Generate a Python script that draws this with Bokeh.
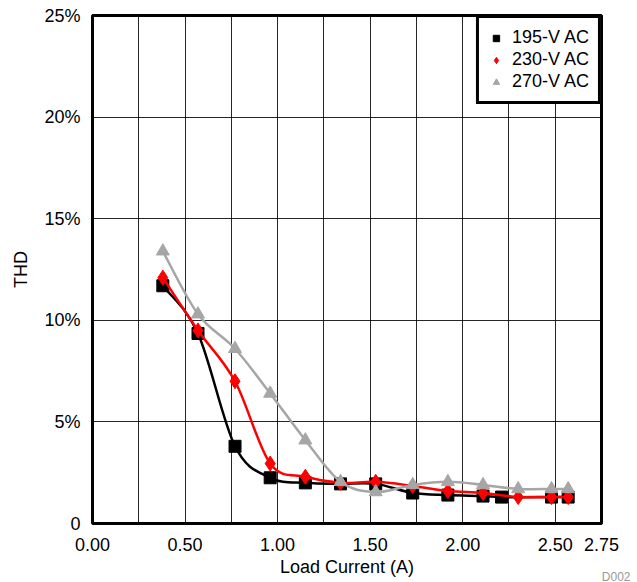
from bokeh.plotting import figure
from bokeh.models import FixedTicker, Range1d, Legend, LegendItem, Title, ColumnDataSource
from bokeh.embed import file_html
from bokeh.resources import INLINE

# ---- data ----
series_names = ["195-V AC", "230-V AC", "270-V AC"]
x_195 = [0.38, 0.57, 0.77, 0.96, 1.15, 1.34, 1.53, 1.73, 1.92, 2.11, 2.21, 2.48, 2.57]
thd_195 = [11.7, 9.35, 3.8, 2.25, 2.0, 1.95, 1.95, 1.5, 1.4, 1.35, 1.3, 1.3, 1.3]
x_230 = [0.38, 0.57, 0.77, 0.96, 1.15, 1.34, 1.53, 1.73, 1.92, 2.11, 2.30, 2.48, 2.57]
thd_230 = [12.1, 9.5, 7.0, 2.95, 2.3, 2.0, 2.05, 1.85, 1.6, 1.5, 1.3, 1.3, 1.3]
x_270 = [0.38, 0.57, 0.77, 0.96, 1.15, 1.34, 1.53, 1.73, 1.92, 2.11, 2.30, 2.48, 2.57]
thd_270 = [13.4, 10.3, 8.6, 6.4, 4.1, 2.05, 1.55, 1.9, 2.05, 1.9, 1.7, 1.7, 1.7]

x_ticks = [0, 0.5, 1.0, 1.5, 2.0, 2.5, 2.75]
x_tick_labels = ["0.00", "0.50", "1.00", "1.50", "2.00", "2.50", "2.75"]
x_grid = [0, 0.25, 0.5, 0.75, 1.0, 1.25, 1.5, 1.75, 2.0, 2.25, 2.5, 2.75]
y_ticks = [0, 5, 10, 15, 20, 25]
y_tick_labels = ["0", "5%", "10%", "15%", "20%", "25%"]
chart_id = "D002"

FONT = "Liberation Sans"
FS = "18px"

p = figure(width=637, height=582, output_backend="svg", toolbar_location=None,
           x_range=Range1d(0, 2.75), y_range=Range1d(0, 25),
           min_border_left=92, min_border_right=36, min_border_top=15, min_border_bottom=59)

p.background_fill_color = "white"
p.border_fill_color = "white"
p.outline_line_color = "black"
p.outline_line_width = 3
p.outline_line_alpha = 1

p.xaxis.ticker = FixedTicker(ticks=x_ticks)
p.xaxis.major_label_overrides = {t: l for t, l in zip(x_ticks, x_tick_labels)}
p.yaxis.ticker = FixedTicker(ticks=y_ticks)
p.yaxis.major_label_overrides = {t: l for t, l in zip(y_ticks, y_tick_labels)}
p.xgrid.ticker = FixedTicker(ticks=x_grid)
p.ygrid.ticker = FixedTicker(ticks=y_ticks)
for g in (p.xgrid, p.ygrid):
    g.grid_line_color = "black"
    g.grid_line_width = 1
    g.grid_line_alpha = 0.85

for ax in (p.xaxis, p.yaxis):
    ax.axis_line_color = None
    ax.major_tick_line_color = None
    ax.minor_tick_line_color = None
    ax.major_label_text_font = FONT
    ax.major_label_text_font_size = FS
    ax.major_label_text_color = "black"
    ax.axis_label_text_font = FONT
    ax.axis_label_text_font_size = FS
    ax.axis_label_text_font_style = "normal"
    ax.axis_label_text_color = "black"

p.xaxis.axis_label = "Load Current (A)"
p.yaxis.axis_label = "THD"
p.xaxis.major_label_standoff = 8
p.xaxis.axis_label_standoff = 3
p.yaxis.major_label_standoff = 6
p.yaxis.axis_label_standoff = 10


def smooth(xs, ys):
    # Catmull-Rom style bezier control points (like a spreadsheet's smoothed line)
    n = len(xs)
    d = dict(x0=[], y0=[], x1=[], y1=[], cx0=[], cy0=[], cx1=[], cy1=[])
    for i in range(n - 1):
        xm, ym = (xs[i - 1], ys[i - 1]) if i > 0 else (xs[i], ys[i])
        xp, yp = (xs[i + 2], ys[i + 2]) if i + 2 < n else (xs[i + 1], ys[i + 1])
        d["x0"].append(xs[i]); d["y0"].append(ys[i])
        d["x1"].append(xs[i + 1]); d["y1"].append(ys[i + 1])
        d["cx0"].append(xs[i] + (xs[i + 1] - xm) / 6)
        d["cy0"].append(ys[i] + (ys[i + 1] - ym) / 6)
        d["cx1"].append(xs[i + 1] - (xp - xs[i]) / 6)
        d["cy1"].append(ys[i + 1] - (yp - ys[i]) / 6)
    return ColumnDataSource(d)


colors = ["black", "red", "#a6a6a6"]
markers = ["square", "diamond", "triangle"]
sizes = [12, 15, 13]
data = [(x_195, thd_195), (x_230, thd_230), (x_270, thd_270)]

items = []
for (xs, ys), c, m, s, name in zip(data, colors, markers, sizes, series_names):
    p.bezier(x0="x0", y0="y0", x1="x1", y1="y1", cx0="cx0", cy0="cy0", cx1="cx1", cy1="cy1",
             source=smooth(xs, ys), line_color=c, line_width=2.5)
    r = p.scatter(xs, ys, marker=m, size=s, fill_color=c, line_color=c)
    items.append(LegendItem(label=name, renderers=[r]))

legend = Legend(items=items, location="top_right")
legend.border_line_color = "black"
legend.border_line_width = 3
legend.border_line_alpha = 1
legend.background_fill_color = "white"
legend.background_fill_alpha = 1
legend.label_text_font = FONT
legend.label_text_font_size = FS
legend.label_text_color = "black"
legend.margin = 0
legend.padding = 9
legend.spacing = 1
legend.glyph_width = 16
legend.glyph_height = 20
legend.label_height = 20
legend.label_standoff = 8
p.add_layout(legend)

p.add_layout(Title(text=chart_id, align="right", offset=-29, standoff=-20,
                   vertical_align="top",
                   text_font=FONT, text_font_size="12px", text_font_style="normal",
                   text_color="#999999", text_line_height=0.8), "below")

open("out.html", "w").write(file_html(p, INLINE))
